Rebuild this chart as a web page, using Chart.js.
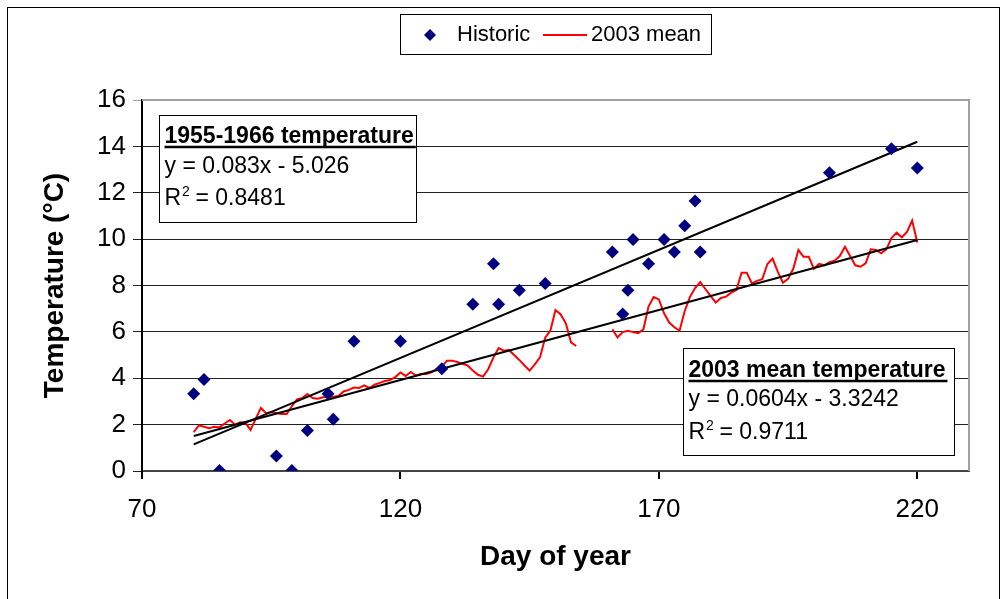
<!DOCTYPE html>
<html>
<head>
<meta charset="utf-8">
<script src="https://cdn.jsdelivr.net/npm/chart.js@4.4.0/dist/chart.umd.min.js"></script>
<style>
  html, body { margin: 0; padding: 0; background: #fff; }
  #wrap { width: 1003px; height: 599px; position: relative; }
</style>
</head>
<body>
<div id="wrap"><canvas id="tempChart"></canvas></div>
<script>
// historic (1955-1966) readings
const histDays  = [80, 82, 85, 96, 99, 102, 106, 107, 111, 120, 128, 134, 138, 139, 143, 148,
                   161, 163, 164, 165, 168, 171, 173, 175, 177, 178, 203, 215, 220];
const histTemps = [3.33, 3.95, 0.02, 0.65, 0.02, 1.75, 3.33, 2.23, 5.6, 5.6, 4.41, 7.19, 8.94, 7.19, 7.8, 8.09,
                   9.44, 6.77, 7.8, 9.98, 8.94, 9.98, 9.44, 10.58, 11.64, 9.44, 12.86, 13.9, 13.07];

// 2003 daily mean, day 80 .. 220 (null = no data)
const firstDay2003 = 80;
const mean2003 = [
  1.67, 1.97, 1.91, 1.85, 1.91, 1.88, 2.05, 2.20, 2.00, 2.10,   // 80-89
  2.08, 1.77, 2.25, 2.72, 2.49, 2.54, 2.50, 2.46, 2.46, 2.80,   // 90-99
  3.09, 3.15, 3.32, 3.15, 3.12, 3.18, 3.20, 3.20, 3.23, 3.43,   // 100-109
  3.50, 3.60, 3.58, 3.69, 3.58, 3.72, 3.80, 3.88, 3.92, 4.05,   // 110-119
  4.25, 4.10, 4.27, 4.12, 4.18, 4.18, 4.25, 4.40, 4.50, 4.76,   // 120-129
  4.76, 4.70, 4.62, 4.55, 4.33, 4.15, 4.07, 4.40, 4.90, 5.30,   // 130-139
  5.19, 5.22, 5.00, 4.79, 4.55, 4.33, 4.60, 4.90, 5.75, 6.05,   // 140-149
  6.94, 6.75, 6.37, 5.55, 5.39, null, null, null, null, null,   // 150-159
  null, 6.11, 5.76, 5.99, 6.05, 5.99, 5.94, 6.11, 7.09, 7.50,   // 160-169
  7.40, 6.80, 6.40, 6.20, 6.05, 6.90, 7.50, 7.89, 8.15, 7.85,   // 170-179
  7.55, 7.26, 7.46, 7.52, 7.69, 7.80, 8.55, 8.55, 8.09, 8.20,   // 180-189
  8.27, 8.93, 9.16, 8.60, 8.12, 8.29, 8.72, 9.53, 9.24, 9.24,   // 190-199
  8.72, 8.93, 8.87, 9.01, 9.07, 9.27, 9.67, 9.27, 8.87, 8.81,   // 200-209
  8.96, 9.56, 9.53, 9.39, 9.56, 10.05, 10.28, 10.08, 10.31, 10.80, // 210-219
  9.85                                                          // 220
];

// trend lines as drawn
const histTrendX = [80, 220];
const histTrendY = [1.15, 14.2];
const meanTrendX = [80, 220];
const meanTrendY = [1.51, 9.96];

const xTicks = [70, 120, 170, 220];
const yTicks = [0, 2, 4, 6, 8, 10, 12, 14, 16];

const FONT = "'Liberation Sans', Arial, sans-serif";
const navy = '#000080';

const toPoints = (xs, ys) => xs.map((x, i) => ({ x: x, y: ys[i] }));

const plotFrame = {
  id: 'plotFrame',
  beforeDatasetsDraw(chart) {
    const { ctx, chartArea: a } = chart;
    ctx.save();
    ctx.strokeStyle = '#a0a0a0';
    ctx.lineWidth = 2;
    ctx.beginPath();
    ctx.moveTo(a.left, a.top);
    ctx.lineTo(a.right, a.top);
    ctx.lineTo(a.right, a.bottom);
    ctx.stroke();
    ctx.restore();
  },
  afterDraw(chart) {
    const ctx = chart.ctx;
    ctx.save();
    // outer chart border
    ctx.strokeStyle = '#000';
    ctx.lineWidth = 1;
    ctx.strokeRect(7.5, 7.5, 992, 600);

    // legend
    ctx.strokeRect(400.5, 14.5, 311, 40);
    ctx.fillStyle = navy;
    ctx.beginPath();
    ctx.moveTo(424, 35); ctx.lineTo(430, 29); ctx.lineTo(436, 35); ctx.lineTo(430, 41);
    ctx.closePath();
    ctx.fill();
    ctx.strokeStyle = '#ff0000';
    ctx.lineWidth = 2;
    ctx.beginPath();
    ctx.moveTo(543, 35); ctx.lineTo(587, 35);
    ctx.stroke();
    ctx.fillStyle = '#000';
    ctx.font = '22px ' + FONT;
    ctx.textBaseline = 'middle';
    ctx.fillText(chart.data.datasets[0].label, 457, 35);
    ctx.fillText(chart.data.datasets[3].label, 591, 35);

    // trend equation boxes
    drawEqBox(ctx, 159.5, 115.5, 257, 107, '1955-1966 temperature', 'y = 0.083x - 5.026', '0.8481', [143, 173, 205]);
    drawEqBox(ctx, 683.5, 348.5, 271, 107, '2003 mean temperature', 'y = 0.0604x - 3.3242', '0.9711', [377, 406, 439]);
    ctx.restore();
  }
};

function drawEqBox(ctx, x, y, w, h, title, eq, r2, base) {
  ctx.fillStyle = '#fff';
  ctx.fillRect(x, y, w, h);
  ctx.strokeStyle = '#000';
  ctx.lineWidth = 1;
  ctx.strokeRect(x, y, w, h);
  ctx.fillStyle = '#000';
  ctx.textBaseline = 'alphabetic';
  ctx.font = 'bold 23px ' + FONT;
  const tx = x + 5;
  ctx.fillText(title, tx, base[0]);
  const tw = ctx.measureText(title).width;
  ctx.lineWidth = 2.5;
  ctx.beginPath();
  ctx.moveTo(tx, base[0] + 4);
  ctx.lineTo(tx + tw + 2, base[0] + 4);
  ctx.stroke();
  ctx.font = '23px ' + FONT;
  ctx.fillText(eq, tx, base[1]);
  ctx.fillText('R', tx, base[2]);
  const rw = ctx.measureText('R').width;
  ctx.font = '14px ' + FONT;
  ctx.fillText('2', tx + rw + 1, base[2] - 9);
  ctx.font = '23px ' + FONT;
  ctx.fillText(' = ' + r2, tx + rw + 8, base[2]);
}

new Chart(document.getElementById('tempChart'), {
  type: 'scatter',
  data: {
    datasets: [
      {
        label: 'Historic',
        data: toPoints(histDays, histTemps),
        pointStyle: 'rectRot',
        pointRadius: 6.5,
        pointBackgroundColor: navy,
        pointBorderColor: navy,
        pointBorderWidth: 0,
        showLine: false
      },
      {
        label: 'hist trend',
        type: 'line',
        data: toPoints(histTrendX, histTrendY),
        borderColor: '#000',
        borderWidth: 2,
        pointRadius: 0
      },
      {
        label: 'mean trend',
        type: 'line',
        data: toPoints(meanTrendX, meanTrendY),
        borderColor: '#000',
        borderWidth: 2,
        pointRadius: 0
      },
      {
        label: '2003 mean',
        type: 'line',
        data: mean2003.map((v, i) => ({ x: firstDay2003 + i, y: v })),
        borderColor: '#ff0000',
        borderWidth: 2,
        pointRadius: 0,
        spanGaps: false,
        tension: 0
      }
    ]
  },
  options: {
    responsive: true,
    maintainAspectRatio: false,
    animation: false,
    layout: { padding: { top: 100, right: 34, left: 0, bottom: 0 } },
    plugins: {
      legend: { display: false },
      tooltip: { enabled: false }
    },
    scales: {
      x: {
        type: 'linear',
        min: 70,
        max: 230,
        afterBuildTicks: s => { s.ticks = xTicks.map(v => ({ value: v })); },
        afterFit: s => { s.height = 128; },
        grid: { drawOnChartArea: false, drawTicks: true, tickLength: 8, color: '#000', lineWidth: 2 },
        border: { color: '#444', width: 2 },
        ticks: { color: '#000', font: { family: FONT, size: 26 }, padding: 15, maxRotation: 0 },
        title: {
          display: true,
          text: 'Day of year',
          color: '#000',
          font: { family: FONT, size: 28, weight: 'bold' },
          padding: { top: 0, bottom: 25 }
        }
      },
      y: {
        min: 0,
        max: 16,
        afterBuildTicks: s => { s.ticks = yTicks.map(v => ({ value: v })); },
        afterFit: s => { s.width = 142; },
        grid: {
          color: c => (c.tick && c.tick.value === 16 ? '#a0a0a0' : '#222'),
          lineWidth: 1,
          tickLength: 9
        },
        border: { color: '#000', width: 2 },
        ticks: { color: '#000', font: { family: FONT, size: 26 }, padding: 7 },
        title: {
          display: true,
          text: 'Temperature (°C)',
          color: '#000',
          font: { family: FONT, size: 28, weight: 'bold' },
          padding: { top: 38, bottom: 0 }
        }
      }
    }
  },
  plugins: [plotFrame]
});
</script>
</body>
</html>
